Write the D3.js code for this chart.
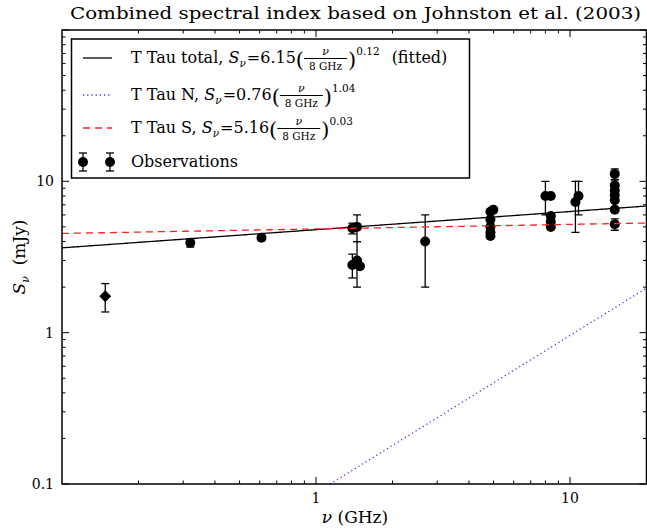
<!DOCTYPE html>
<html>
<head>
<meta charset="utf-8">
<script src="https://cdn.jsdelivr.net/npm/d3@7"></script>
<style>
  body { margin: 0; background: #fff; }
  text { font-family: "DejaVu Serif", serif; fill: #000; white-space: pre; }
</style>
</head>
<body>
<svg width="647" height="529"></svg>
<script>
// observations (GHz, mJy, +/- mJy)
const obsFreq = [0.32, 0.61, 1.39, 1.45, 1.39, 1.45, 1.49, 2.69, 4.86, 4.99, 4.86, 4.86, 4.86, 4.86,
  8.0, 8.4, 8.4, 8.4, 8.4, 10.5, 10.8, 15, 15, 15, 15, 15, 15, 15]
const obsFlux = [3.93, 4.24, 4.9, 5.0, 2.8, 3.0, 2.75, 4.0, 6.3, 6.5, 5.6, 5.0, 4.6, 4.35,
  8.0, 8.0, 5.9, 5.4, 5.0, 7.3, 8.0, 11.2, 9.4, 8.7, 8.1, 7.5, 6.5, 5.2]
const obsErr = [0.25, 0.15, 0.4, 1.0, 0.5, 1.0, 0, 2.0, 0, 0, 0, 0, 0, 0,
  2.0, 0, 0, 0, 0, 2.7, 2.0, 0.9, 0.8, 0, 0, 0, 0, 0.45]
// low frequency point (diamond)
const lowFreq = [0.148]
const lowFlux = [1.74]
const lowErr = [0.37]

// power law fits S = a (nu / 8 GHz)^b
const fitNames = ['T Tau total', 'T Tau N', 'T Tau S']
const fitAmp = [6.15, 0.76, 5.16]
const fitIdx = [0.12, 1.04, 0.03]
const fitColor = ['#000', '#3333ff', '#ff2020']
const fitDash = [null, '1.2,3', '7,5']

const xTicks = [1, 10]
const yTicks = [0.1, 1, 10]

const svg = d3.select('svg')
const pL = 62, pR = 646.5, pT = 30, pB = 484

const x = d3.scaleLog().domain([0.1, 20]).range([pL, pR])
const y = d3.scaleLog().domain([0.1, 100]).range([pB, pT])

svg.append('defs').append('clipPath').attr('id', 'clip')
  .append('rect').attr('x', pL).attr('y', pT).attr('width', pR - pL).attr('height', pB - pT)

// title
svg.append('text').attr('x', 70).attr('y', 18.5)
  .attr('textLength', 571).attr('lengthAdjust', 'spacingAndGlyphs')
  .style('font-size', '16.5px').text('Combined spectral index based on Johnston et al. (2003)')

const plot = svg.append('g').attr('clip-path', 'url(#clip)')

// error bars
function errBars (fr, fl, er) {
  fr.forEach(function (f, i) {
    if (!er[i]) return
    const cx = x(f), y1 = y(fl[i] + er[i]), y0 = y(fl[i] - er[i])
    plot.append('line').attr('x1', cx).attr('x2', cx).attr('y1', y1).attr('y2', y0)
      .attr('stroke', '#000').attr('stroke-width', 1.3)
    ;[y1, y0].forEach(function (yy) {
      plot.append('line').attr('x1', cx - 4).attr('x2', cx + 4).attr('y1', yy).attr('y2', yy)
        .attr('stroke', '#000').attr('stroke-width', 1.3)
    })
  })
}
errBars(obsFreq, obsFlux, obsErr)
errBars(lowFreq, lowFlux, lowErr)

plot.selectAll('circle.obs').data(d3.range(obsFreq.length)).enter().append('circle')
  .attr('class', 'obs')
  .attr('cx', function (i) { return x(obsFreq[i]) })
  .attr('cy', function (i) { return y(obsFlux[i]) })
  .attr('r', 5).attr('fill', '#000')

plot.selectAll('path.low').data(d3.range(lowFreq.length)).enter().append('path')
  .attr('class', 'low')
  .attr('d', d3.symbol().type(d3.symbolDiamond2).size(90))
  .attr('transform', function (i) { return 'translate(' + x(lowFreq[i]) + ',' + y(lowFlux[i]) + ')' })
  .attr('fill', '#000')

// fit lines
const nuGrid = d3.range(0, 301).map(function (k) { return 0.1 * Math.pow(200, k / 300) })
const line = d3.line().x(function (d) { return x(d[0]) }).y(function (d) { return y(d[1]) })
fitAmp.forEach(function (a, j) {
  const pts = nuGrid.map(function (n) { return [n, Math.max(0.01, a * Math.pow(n / 8, fitIdx[j]))] })
  plot.append('path').attr('d', line(pts)).attr('fill', 'none')
    .attr('stroke', fitColor[j]).attr('stroke-width', 1.3)
    .attr('stroke-dasharray', fitDash[j])
})

// ticks (inside, all four sides)
const xMinor = [], yMinor = []
;[0.1, 1, 10].forEach(function (d) { for (let k = 2; k <= 9; k++) if (d * k <= 20) xMinor.push(d * k) })
;[0.1, 1, 10].forEach(function (d) { for (let k = 2; k <= 9; k++) yMinor.push(d * k) })
const tk = svg.append('g').attr('stroke', '#000').attr('stroke-width', 1)
function xt (v, len) {
  tk.append('line').attr('x1', x(v)).attr('x2', x(v)).attr('y1', pB).attr('y2', pB - len)
  tk.append('line').attr('x1', x(v)).attr('x2', x(v)).attr('y1', pT).attr('y2', pT + len)
}
function yt (v, len) {
  tk.append('line').attr('y1', y(v)).attr('y2', y(v)).attr('x1', pL).attr('x2', pL + len)
  tk.append('line').attr('y1', y(v)).attr('y2', y(v)).attr('x1', pR).attr('x2', pR - len)
}
xTicks.forEach(function (v) { xt(v, 7) })
xMinor.forEach(function (v) { xt(v, 3.5) })
yTicks.concat([100]).forEach(function (v) { yt(v, 7) })
yMinor.forEach(function (v) { yt(v, 3.5) })

svg.append('rect').attr('x', pL).attr('y', pT).attr('width', pR - pL).attr('height', pB - pT)
  .attr('fill', 'none').attr('stroke', '#000').attr('stroke-width', 1.5)

// tick labels
xTicks.forEach(function (v) {
  svg.append('text').attr('x', x(v)).attr('y', 503).attr('text-anchor', 'middle')
    .style('font-size', '14px').text(d3.format('~g')(v))
})
yTicks.forEach(function (v) {
  svg.append('text').attr('x', 54).attr('y', y(v) + 5).attr('text-anchor', 'end')
    .style('font-size', '14px').text(d3.format('~g')(v))
})

// axis labels
const xl = svg.append('text').attr('x', 355).attr('y', 523).attr('text-anchor', 'middle').style('font-size', '17px')
xl.append('tspan').style('font-style', 'italic').text('ν')
xl.append('tspan').text(' (GHz)')
const yl = svg.append('text').attr('transform', 'translate(25,257) rotate(-90)').attr('text-anchor', 'middle').style('font-size', '17px')
yl.append('tspan').style('font-style', 'italic').text('S')
yl.append('tspan').style('font-style', 'italic').style('font-size', '11px').attr('dy', 4).text('ν')
yl.append('tspan').attr('dy', -4).text('  (mJy)')

// legend
const lg = svg.append('g')
lg.append('rect').attr('x', 71.5).attr('y', 39).attr('width', 398).attr('height', 139)
  .attr('fill', '#fff').attr('stroke', '#000').attr('stroke-width', 1.5)

function put (cx, cy, str, size, italic) {
  const t = lg.append('text').attr('x', cx).attr('y', cy).style('font-size', size + 'px').text(str)
  if (italic) t.style('font-style', 'italic')
  return t.node().getComputedTextLength()
}
function mathEntry (cy, name, j, tail) {
  let cx = 131
  cx += put(cx, cy, name + ', ', 16)
  cx += put(cx, cy, 'S', 16, true)
  cx += put(cx, cy + 4, 'ν', 10.5, true) + 1
  cx += put(cx, cy, '=' + d3.format('.2f')(fitAmp[j]), 16)
  cx += put(cx, cy + 4, '(', 21)
  const w = 43
  lg.append('text').attr('x', cx + w / 2).attr('y', cy - 8).attr('text-anchor', 'middle')
    .style('font-size', '11px').style('font-style', 'italic').text('ν')
  lg.append('line').attr('x1', cx).attr('x2', cx + w).attr('y1', cy - 4.5).attr('y2', cy - 4.5)
    .attr('stroke', '#000').attr('stroke-width', 1)
  lg.append('text').attr('x', cx + w / 2).attr('y', cy + 6.5).attr('text-anchor', 'middle')
    .style('font-size', '10.5px').text('8 GHz')
  cx += w + 1
  cx += put(cx, cy + 4, ')', 21)
  cx += put(cx, cy - 8, d3.format('.2f')(fitIdx[j]), 10.5)
  if (tail) put(cx + 12, cy, tail, 16)
}
const rowY = [63, 100, 133, 167]
fitNames.forEach(function (n, j) {
  lg.append('line').attr('x1', 83).attr('x2', 112).attr('y1', rowY[j] - 5).attr('y2', rowY[j] - 5)
    .attr('stroke', fitColor[j]).attr('stroke-width', 1.3).attr('stroke-dasharray', fitDash[j])
  mathEntry(rowY[j], n, j, j === 0 ? '(fitted)' : null)
})
;[83, 110].forEach(function (cx) {
  const cy = rowY[3] - 5
  lg.append('line').attr('x1', cx).attr('x2', cx).attr('y1', cy - 9).attr('y2', cy + 9).attr('stroke', '#000').attr('stroke-width', 1.3)
  ;[cy - 9, cy + 9].forEach(function (yy) {
    lg.append('line').attr('x1', cx - 4).attr('x2', cx + 4).attr('y1', yy).attr('y2', yy).attr('stroke', '#000').attr('stroke-width', 1.3)
  })
  lg.append('circle').attr('cx', cx).attr('cy', cy).attr('r', 5).attr('fill', '#000')
})
put(131, rowY[3], 'Observations', 16)
</script>
</body>
</html>
